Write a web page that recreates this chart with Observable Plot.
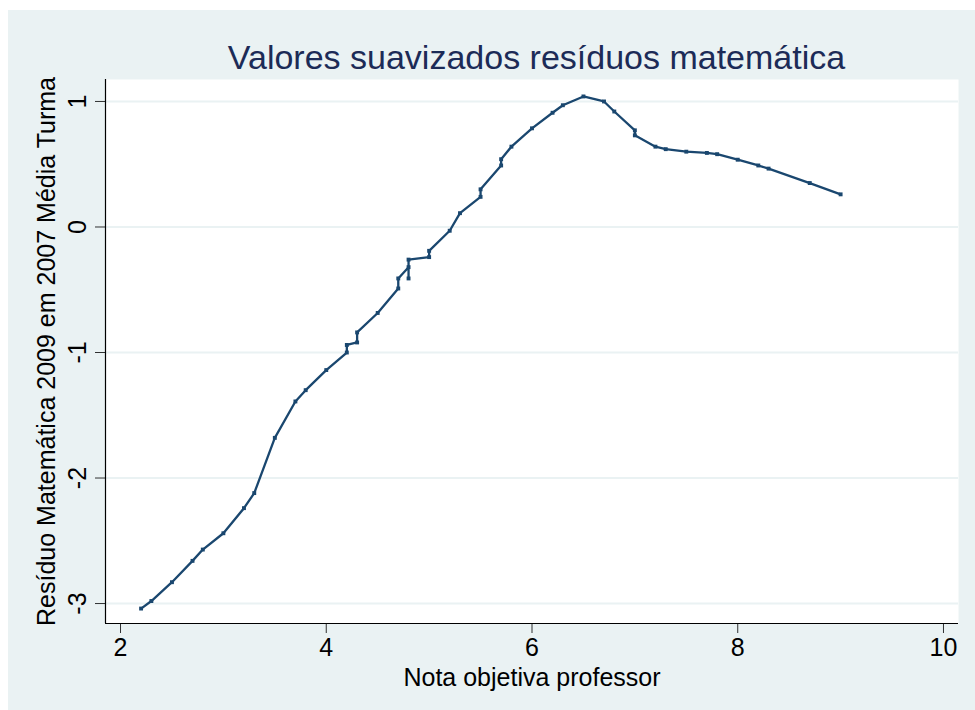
<!DOCTYPE html>
<html>
<head>
<meta charset="utf-8">
<script src="https://cdn.jsdelivr.net/npm/d3@7"></script>
<script src="https://cdn.jsdelivr.net/npm/@observablehq/plot@0.6"></script>
<style>
  html, body { margin: 0; padding: 0; background: #ffffff; }
  #panel { position: absolute; left: 8px; top: 10px; width: 967px; height: 700px; background: #eaf2f3; overflow: hidden; }
  #title { position: absolute; left: 102px; width: 853px; top: 27px; text-align: center;
           font-family: "Liberation Sans", Arial, sans-serif; font-size: 34px; color: #1c2b57; line-height: 40px; }
  #chart { position: absolute; left: 0; top: 0; }
</style>
</head>
<body>
<div id="panel">
  <div id="title">Valores suavizados resíduos matemática</div>
  <div id="chart"></div>
</div>
<script>
const notaProfessor = [2.2, 2.3, 2.5, 2.7, 2.8, 3.0, 3.2, 3.3, 3.5, 3.7, 3.8, 4.0,
  4.2, 4.2, 4.3, 4.3, 4.5, 4.7, 4.7, 4.8, 4.8, 4.8, 5.0, 5.0, 5.2, 5.3, 5.5, 5.5,
  5.7, 5.7, 5.8, 6.0, 6.2, 6.3, 6.5, 6.7, 6.8, 7.0, 7.0, 7.2, 7.3, 7.5, 7.7, 7.8,
  8.0, 8.2, 8.3, 8.7, 9.0];
const residuoSuavizado = [-3.04, -2.98, -2.83, -2.66, -2.57, -2.44, -2.24, -2.12, -1.68, -1.39, -1.30, -1.14,
  -1.00, -0.94, -0.92, -0.84, -0.685, -0.49, -0.41, -0.32, -0.41, -0.26, -0.24, -0.19, -0.03, 0.11, 0.24, 0.30,
  0.49, 0.54, 0.64, 0.786, 0.91, 0.97, 1.04, 1.00, 0.92, 0.77, 0.73, 0.64, 0.62, 0.60, 0.59, 0.58,
  0.536, 0.49, 0.465, 0.35, 0.26];
const xTicks = [2, 4, 6, 8, 10];
const yTicks = [-3, -2, -1, 0, 1];
const xLabel = "Nota objetiva professor";
const yLabel = "Resíduo Matemática 2009 em 2007 Média Turma";

const data = notaProfessor.map((x, i) => ({x, y: residuoSuavizado[i]}));
const navy = "#1a476f";
const fmt = d => String(d);

const chart = Plot.plot({
  width: 967,
  height: 700,
  marginTop: 69,
  marginLeft: 97,
  marginRight: 17,
  marginBottom: 87,
  style: { background: "transparent", fontFamily: "'Liberation Sans', Arial, sans-serif", color: "#000" },
  x: { domain: [1.854, 10.146] },
  y: { domain: [-3.159, 1.175] },
  marks: [
    Plot.frame({ fill: "white", stroke: null }),
    Plot.gridY(yTicks, { stroke: "#eaf2f3", strokeOpacity: 1, strokeWidth: 2 }),
    Plot.axisX({ ticks: xTicks, tickFormat: fmt, tickSize: 10, tickPadding: 5, fontSize: 25, stroke: "#000", strokeOpacity: 0.8,
                 label: xLabel, labelArrow: "none", labelAnchor: "center", labelOffset: 62 }),
    Plot.axisY({ ticks: yTicks, tickFormat: fmt, tickSize: 10, tickPadding: 10, fontSize: 25, tickRotate: -90, stroke: "#000", strokeOpacity: 0.8,
                 label: yLabel, labelArrow: "none", labelAnchor: "center", labelOffset: 68 }),
    Plot.ruleY([-3.159], { stroke: "#000", strokeWidth: 1.2 }),
    Plot.ruleX([1.854], { stroke: "#000", strokeWidth: 1.2 }),
    Plot.line(data, { x: "x", y: "y", stroke: navy, strokeWidth: 2.3 }),
    Plot.dot(data, { x: "x", y: "y", symbol: "square", r: 2.2, fill: navy, stroke: null })
  ]
});
document.getElementById("chart").appendChild(chart);
</script>
</body>
</html>
